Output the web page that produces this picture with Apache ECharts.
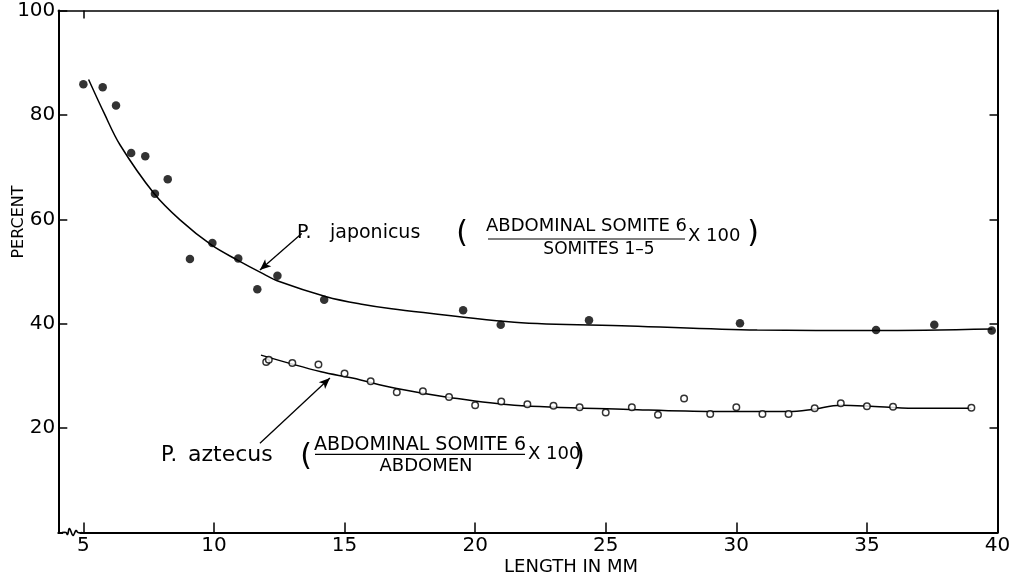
<!DOCTYPE html>
<html>
<head>
<meta charset="utf-8">
<script src="https://cdn.jsdelivr.net/npm/echarts@6/dist/echarts.min.js"></script>
<style>
  html, body { margin: 0; padding: 0; background: #fff; }
  #chart { width: 1015px; height: 579px; }
</style>
</head>
<body>
<div id="chart"></div>
<script>
// P. japonicus: abdominal somite 6 / somites 1-5 x 100 (filled dots)
const japonicusLength  = [5.0, 5.74, 6.25, 6.83, 7.37, 7.74, 8.23, 9.08, 9.94, 10.93, 11.66, 12.43, 14.22, 19.54, 20.98, 24.36, 30.14, 35.35, 37.58, 39.78];
const japonicusPercent = [85.9, 85.3, 81.8, 72.7, 72.1, 64.9, 67.7, 52.4, 55.5, 52.5, 46.6, 49.2, 44.6, 42.6, 39.8, 40.7, 40.1, 38.8, 39.8, 38.7];

// P. aztecus: abdominal somite 6 / abdomen x 100 (open circles)
const aztecusLength  = [12.0, 12.1, 13, 14, 15, 16, 17, 18, 19, 20, 21, 22, 23, 24, 25, 26, 27, 28, 29, 30, 31, 32, 33, 34, 35, 36, 39];
const aztecusPercent = [32.7, 33.1, 32.5, 32.2, 30.5, 29.0, 26.9, 27.1, 26.0, 24.4, 25.1, 24.6, 24.3, 24.0, 23.0, 24.0, 22.6, 25.7, 22.7, 24.0, 22.7, 22.7, 23.8, 24.8, 24.2, 24.1, 23.9];

// Hand-fitted trend curves
const japonicusCurveLength  = [5.2, 5.8, 6.4, 7.7, 8.7, 9.9, 10.9, 11.8, 12.5, 14.3, 15.6, 16.8, 21.5, 25.9, 30.8, 35.3, 39.8];
const japonicusCurvePercent = [86.8, 80.3, 74.3, 65.0, 59.9, 55.1, 52.2, 49.8, 48.1, 45.2, 43.8, 42.9, 40.3, 39.6, 38.8, 38.7, 39.0];
const aztecusCurveLength  = [11.8, 14.1, 15.3, 17.0, 19.0, 21.5, 25.9, 29.1, 32.0, 32.9, 34.0, 35.0, 36.8, 39.0];
const aztecusCurvePercent = [34.0, 30.8, 29.6, 27.6, 25.9, 24.4, 23.6, 23.2, 23.2, 23.6, 24.4, 24.25, 23.8, 23.8];

// Axis ticks
const lengthTicks  = [5, 10, 15, 20, 25, 30, 35, 40];
const percentTicks = [20, 40, 60, 80, 100];

// Annotation arrows [tail, head] in data units
const japonicusArrow = [[13.36, 57.3], [11.76, 50.3]];
const aztecusArrow   = [[11.76, 17.1], [14.44, 29.6]];

const zip = (xs, ys) => xs.map((x, i) => [x, ys[i]]);
const FONT = 'DejaVu Sans';
const INK = '#000';

const chart = echarts.init(document.getElementById('chart'), null, { renderer: 'canvas' });

function arrowLine(pair) {
  return {
    silent: true,
    symbol: ['none', 'arrow'],
    symbolSize: 10,
    precision: 4,
    lineStyle: { color: INK, width: 1.3, type: 'solid' },
    itemStyle: { color: INK },
    label: { show: false },
    data: [[
      { coord: pair[0], symbol: 'none' },
      { coord: pair[1], symbol: 'arrow', symbolSize: [7, 11] }
    ]]
  };
}

function txt(text, x, y, size, align, extra) {
  return Object.assign({
    type: 'text', x: x, y: y, z: 50, silent: true,
    style: {
      text: text, fill: INK, fontFamily: FONT, fontSize: size,
      textAlign: align || 'center', textVerticalAlign: 'middle'
    }
  }, extra || {});
}

function bar(x1, x2, y) {
  return { type: 'line', z: 50, silent: true, shape: { x1: x1, y1: y, x2: x2, y2: y }, style: { stroke: INK, lineWidth: 1.2 } };
}

const option = {
  backgroundColor: '#fff',
  animation: false,
  grid: { left: 58.3, right: 17.5, top: 10.6, bottom: 46.4, containLabel: false },
  xAxis: [
    {
      type: 'value', position: 'bottom', min: 4.04, max: 40,
      axisLine: { show: true, onZero: false, lineStyle: { color: INK, width: 2 } },
      axisTick: { show: true, inside: true, length: 10, customValues: lengthTicks, lineStyle: { color: INK, width: 1.5 } },
      axisLabel: { customValues: lengthTicks, color: INK, fontFamily: FONT, fontSize: 20, margin: 3 },
      splitLine: { show: false }
    },
    {
      type: 'value', position: 'top', min: 4.04, max: 40,
      axisLine: { show: true, onZero: false, lineStyle: { color: INK, width: 1.6 } },
      axisTick: { show: true, inside: true, length: 8, customValues: [5], lineStyle: { color: INK, width: 1.5 } },
      axisLabel: { show: false },
      splitLine: { show: false }
    }
  ],
  yAxis: [
    {
      type: 'value', position: 'left', min: 0, max: 100, interval: 20,
      axisLine: { show: true, onZero: false, lineStyle: { color: INK, width: 2 } },
      axisTick: { show: true, inside: true, length: 9, customValues: percentTicks, lineStyle: { color: INK, width: 1.5 } },
      axisLabel: { customValues: percentTicks, color: INK, fontFamily: FONT, fontSize: 20, margin: 3 },
      splitLine: { show: false }
    },
    {
      type: 'value', position: 'right', min: 0, max: 100, interval: 20,
      axisLine: { show: true, onZero: false, lineStyle: { color: INK, width: 2 } },
      axisTick: { show: true, inside: true, length: 8, customValues: [20, 40, 60, 80], lineStyle: { color: INK, width: 1.5 } },
      axisLabel: { show: false },
      splitLine: { show: false }
    }
  ],
  series: [
    {
      name: 'P. japonicus curve', type: 'line', xAxisIndex: 0, yAxisIndex: 0,
      data: zip(japonicusCurveLength, japonicusCurvePercent),
      smooth: 0.35, showSymbol: false, silent: true, z: 2,
      lineStyle: { color: INK, width: 1.5 },
      markLine: arrowLine(japonicusArrow)
    },
    {
      name: 'P. aztecus curve', type: 'line', xAxisIndex: 0, yAxisIndex: 0,
      data: zip(aztecusCurveLength, aztecusCurvePercent),
      smooth: 0.35, showSymbol: false, silent: true, z: 2,
      lineStyle: { color: INK, width: 1.5 },
      markLine: arrowLine(aztecusArrow)
    },
    {
      name: 'P. japonicus', type: 'scatter', xAxisIndex: 0, yAxisIndex: 0,
      data: zip(japonicusLength, japonicusPercent),
      symbol: 'circle', symbolSize: 8.5, z: 5,
      itemStyle: { color: INK }
    },
    {
      name: 'P. aztecus', type: 'scatter', xAxisIndex: 0, yAxisIndex: 0,
      data: zip(aztecusLength, aztecusPercent),
      symbol: 'circle', symbolSize: 6.5, z: 5,
      itemStyle: { color: '#fff', borderColor: INK, borderWidth: 1.5 }
    }
  ],
  graphic: [
    // axis titles
    txt('PERCENT', 18.5, 222, 16, 'center', { rotation: Math.PI / 2 }),
    txt('LENGTH IN MM', 571, 567, 18),
    // P. japonicus ratio
    txt('P.', 297, 233, 19, 'left'),
    txt('japonicus', 330, 233, 19, 'left'),
    txt('(', 462, 234, 30),
    txt('ABDOMINAL SOMITE 6', 586.5, 226, 18),
    bar(488, 685, 239),
    txt('SOMITES 1\u20135', 599, 250, 17),
    txt('X 100', 688, 236, 18, 'left'),
    txt(')', 753, 234, 30),
    // P. aztecus ratio
    txt('P.', 161, 456, 21, 'left'),
    txt('aztecus', 188, 455, 22, 'left'),
    txt('(', 306, 457, 30),
    txt('ABDOMINAL SOMITE 6', 420, 445, 19),
    bar(315, 525, 454.3),
    txt('ABDOMEN', 426, 466, 18),
    txt('X 100', 528, 454, 18, 'left'),
    txt(')', 579, 457, 30),
    // broken-axis mark at the origin
    { type: 'rect', z: 60, silent: true, shape: { x: 63, y: 529, width: 17, height: 8 }, style: { fill: '#fff' } },
    {
      type: 'polyline', z: 61, silent: true,
      shape: { points: [[62, 532.6], [66, 532.6], [67.5, 534.5], [69.5, 528.5], [73, 535.5], [76, 530.5], [78, 532.6], [82, 532.6]], smooth: 0.4 },
      style: { stroke: INK, lineWidth: 1.6, fill: null }
    }
  ]
};

chart.setOption(option);
</script>
</body>
</html>
